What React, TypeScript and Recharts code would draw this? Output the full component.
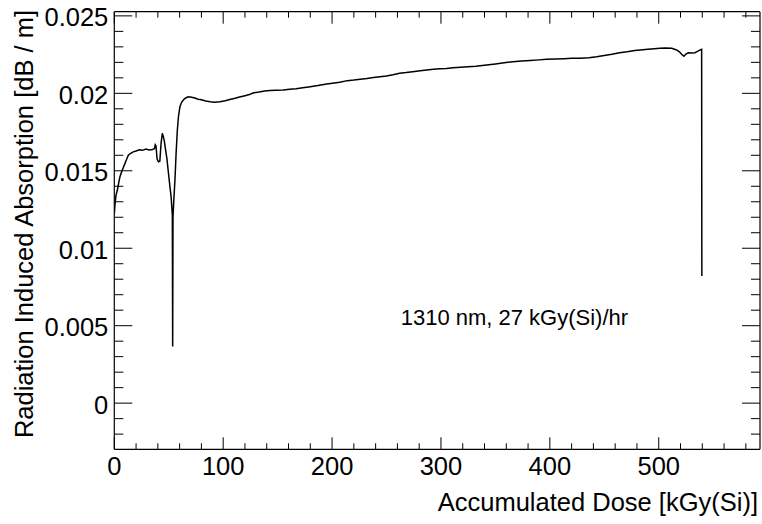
import React from "react";
import { LineChart, Line, XAxis, YAxis } from "recharts";

const doseKGy = [
  0, 0.6, 1.5, 2.8, 4, 5.2, 6.8, 8.5, 9.8, 11.5, 12.9, 14.4, 17.4, 20, 23, 26, 29, 32, 35,
  36.8, 37.6, 38.3, 39.3, 40.5, 41.8, 43, 44.1, 45, 46, 47.2, 48.3, 49.5, 51.1, 52.2, 53.3,
  53.6, 53.9, 54.8, 55.7, 56.8, 57.9, 59, 60.3, 61.8, 63.4, 65.5, 68, 71, 74, 77, 80, 84, 88,
  92, 97, 102, 106, 111, 115, 120, 124, 128, 133, 138, 143, 148, 155, 161, 167, 173, 180, 187,
  195, 202, 207, 214, 220, 226, 232, 238, 244, 250, 256, 262, 268, 274, 281, 287, 293, 299,
  305, 311, 318, 325, 332, 342, 350, 358, 366, 374, 382, 390, 397, 405, 413, 420, 428, 436,
  443, 450, 457, 464, 471, 478, 483, 490, 496, 501, 506, 512, 516.4, 519, 521, 523.1, 525,
  527.1, 530, 533.2, 536, 538.5, 539.4, 539.6,
];

const absorption = [
  0.0122, 0.0128, 0.0134, 0.01376, 0.0142, 0.01462, 0.01495, 0.01525, 0.01548, 0.01578,
  0.016, 0.0161, 0.01622, 0.01628, 0.01636, 0.01632, 0.0164, 0.01635, 0.01638,
  0.01642, 0.01668, 0.0166, 0.01575, 0.01558, 0.01562, 0.0168, 0.01742, 0.01722, 0.0169,
  0.0163, 0.0158, 0.015, 0.01397, 0.0133, 0.01215,
  0.00365, 0.012, 0.0133, 0.01441, 0.0162, 0.01763, 0.01855, 0.01914, 0.01942, 0.01957,
  0.0197, 0.01978, 0.01975, 0.0197, 0.01962, 0.01958, 0.0195, 0.01945,
  0.01942, 0.01946, 0.01952, 0.0196, 0.01968, 0.01976, 0.01985, 0.01992, 0.02004, 0.02008,
  0.02015, 0.02018, 0.0202, 0.02022, 0.02026, 0.0203, 0.02036, 0.02043, 0.0205,
  0.0206, 0.02066, 0.02071, 0.02082, 0.02086, 0.02091, 0.02096, 0.02102, 0.02107, 0.02112,
  0.0212, 0.02129, 0.02134, 0.0214, 0.02146, 0.02151, 0.02155, 0.02158,
  0.02161, 0.02165, 0.02168, 0.02172, 0.02175, 0.02183, 0.0219, 0.02197, 0.02204, 0.02208,
  0.02212, 0.02216, 0.0222, 0.02222, 0.02224, 0.02226, 0.02226, 0.0223,
  0.02236, 0.02244, 0.02252, 0.02262, 0.02268, 0.02276, 0.0228, 0.02284, 0.02288, 0.02291,
  0.02292, 0.02291, 0.0228, 0.02268, 0.02252, 0.0224, 0.02254,
  0.02262, 0.0226, 0.02262, 0.02272, 0.02282, 0.02284, 0.00821,
];

const xMajorTicks = [0, 100, 200, 300, 400, 500];
const yMajorLabels = ["0", "0.005", "0.01", "0.015", "0.02", "0.025"];
const xTitle = "Accumulated Dose [kGy(Si)]";
const yTitle = "Radiation Induced Absorption [dB / m]";
const annotation = "1310 nm, 27 kGy(Si)/hr";

const X_DOMAIN: [number, number] = [0, 593];
const Y_DOMAIN: [number, number] = [-0.00298, 0.02527];

const xAllTicks: number[] = [];
for (let v = 0; v <= 580; v += 20) xAllTicks.push(v);
const yAllTicks: number[] = [];
for (let k = -2; k <= 25; k++) yAllTicks.push(k / 1000);

const data = doseKGy.map((x, i) => ({ x, y: absorption[i] }));

const FONT = "'Liberation Sans', Arial, Helvetica, sans-serif";
const TICK_FS = 25.5;

const isXMajor = (v: number) => xMajorTicks.indexOf(v) >= 0;
const isYMajor = (v: number) => Math.round(v * 1000) % 5 === 0;

const BottomTick = (props: any) => {
  const { x, y, payload } = props;
  const v = payload.value;
  const major = isXMajor(v);
  return (
    <g>
      <line x1={x} x2={x} y1={y} y2={y - (major ? 12 : 6)} stroke="#000" strokeWidth={1} />
      {major && (
        <text x={x} y={y + 25.7} textAnchor="middle" fontSize={TICK_FS} fontFamily={FONT} fill="#000">
          {String(v)}
        </text>
      )}
    </g>
  );
};

const TopTick = (props: any) => {
  const { x, y, payload } = props;
  const major = isXMajor(payload.value);
  return <line x1={x} x2={x} y1={y} y2={y + (major ? 12 : 6)} stroke="#000" strokeWidth={1} />;
};

const LeftTick = (props: any) => {
  const { x, y, payload } = props;
  const v = payload.value;
  const major = isYMajor(v);
  const idx = Math.round(v * 1000) / 5;
  return (
    <g>
      <line x1={x} x2={x + (major ? 18 : 9)} y1={y} y2={y} stroke="#000" strokeWidth={1} />
      {major && (
        <text x={x - 6} y={y + 10.5} textAnchor="end" fontSize={TICK_FS} fontFamily={FONT} fill="#000">
          {yMajorLabels[idx]}
        </text>
      )}
    </g>
  );
};

const RightTick = (props: any) => {
  const { x, y, payload } = props;
  const major = isYMajor(payload.value);
  return <line x1={x} x2={x - (major ? 18 : 9)} y1={y} y2={y} stroke="#000" strokeWidth={1} />;
};

export default function App() {
  return (
    <div style={{ position: "absolute", left: 0, top: 0, width: 762, height: 524, background: "#fff" }}>
      <LineChart
        width={762}
        height={524}
        data={data}
        margin={{ top: 10.7, right: 1, bottom: 0, left: 0 }}
      >
        <XAxis
          xAxisId="bottom"
          type="number"
          dataKey="x"
          domain={X_DOMAIN}
          ticks={xAllTicks}
          interval={0}
          allowDataOverflow
          height={74.7}
          tickSize={0}
          tickMargin={0}
          tickLine={false}
          axisLine={{ stroke: "#000", strokeWidth: 1.2 }}
          tick={<BottomTick />}
        />
        <XAxis
          xAxisId="top"
          orientation="top"
          type="number"
          dataKey="x"
          domain={X_DOMAIN}
          ticks={xAllTicks}
          interval={0}
          allowDataOverflow
          height={1}
          tickSize={0}
          tickMargin={0}
          tickLine={false}
          axisLine={{ stroke: "#000", strokeWidth: 1.2 }}
          tick={<TopTick />}
        />
        <YAxis
          yAxisId="left"
          type="number"
          domain={Y_DOMAIN}
          ticks={yAllTicks}
          interval={0}
          allowDataOverflow
          width={114.3}
          tickSize={0}
          tickMargin={0}
          tickLine={false}
          axisLine={{ stroke: "#000", strokeWidth: 1.2 }}
          tick={<LeftTick />}
        />
        <YAxis
          yAxisId="right"
          orientation="right"
          type="number"
          domain={Y_DOMAIN}
          ticks={yAllTicks}
          interval={0}
          allowDataOverflow
          width={1}
          tickSize={0}
          tickMargin={0}
          tickLine={false}
          axisLine={{ stroke: "#000", strokeWidth: 1.2 }}
          tick={<RightTick />}
        />
        <Line
          xAxisId="bottom"
          yAxisId="left"
          type="linear"
          dataKey="y"
          stroke="#000"
          strokeWidth={1.5}
          dot={false}
          isAnimationActive={false}
        />
      </LineChart>
      <svg
        width={762}
        height={524}
        style={{ position: "absolute", left: 0, top: 0, pointerEvents: "none" }}
      >
        <text
          transform="translate(33,10) rotate(-90)"
          textAnchor="end"
          fontSize={25.5}
          fontFamily={FONT}
          fill="#000"
        >
          {yTitle}
        </text>
        <text x={758} y={511} textAnchor="end" fontSize={25.5} fontFamily={FONT} fill="#000">
          {xTitle}
        </text>
        <text x={400.7} y={325} fontSize={22} fontFamily={FONT} fill="#000">
          {annotation}
        </text>
      </svg>
    </div>
  );
}
